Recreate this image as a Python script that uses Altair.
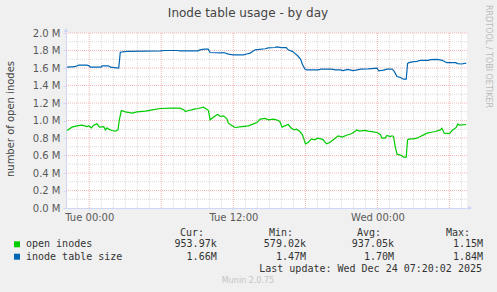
import altair as alt
import pandas as pd

# ---------------- data (hours relative to Tue 2025-12-23 00:00, values in millions) ----------------
series_names = ["open inodes", "inode table size"]
series_colors = ["#00CC00", "#0066B3"]

open_hours = [-1.86, -1.44, -1.03, -0.61, -0.19, -0.05, 0.17, 0.36, 0.64, 0.84,
              1.2, 1.34, 1.48, 1.61, 1.89, 2.17, 2.39, 2.5, 2.67, 3.0,
              3.56, 3.97, 4.67, 5.22, 5.92, 6.89, 7.56, 7.84, 8.03, 8.25,
              8.53, 8.81, 9.08, 9.5, 9.78, 9.92, 10.06, 10.33, 10.69, 10.89,
              11.17, 11.45, 11.58, 12.0, 12.14, 12.7, 13.25, 13.67, 13.95, 14.23,
              14.64, 14.92, 15.31, 15.58, 15.86, 16.06, 16.28, 16.56, 16.83, 17.06,
              17.25, 17.53, 17.75, 17.89, 18.0, 18.22, 18.5, 18.78, 19.0, 19.28,
              19.47, 19.75, 20.03, 20.45, 20.72, 21.06, 21.42, 21.83, 22.11, 22.25,
              22.53, 22.95, 23.22, 23.64, 23.95, 24.23, 24.37, 24.64, 24.78, 25.06,
              25.2, 25.33, 25.47, 25.62, 25.84, 26.03, 26.17, 26.39, 26.5, 26.67,
              27.0, 27.28, 27.56, 27.84, 28.12, 28.39, 28.81, 29.23, 29.36, 29.56,
              30.0, 30.2, 30.42, 30.56, 30.67, 30.84, 31.39]
open_values = [0.886, 0.924, 0.939, 0.947, 0.931, 0.939, 0.916, 0.947, 0.962, 0.924,
               0.931, 0.893, 0.916, 0.901, 0.886, 0.878, 0.893, 1.008, 1.114, 1.099,
               1.084, 1.099, 1.107, 1.122, 1.137, 1.141, 1.141, 1.122, 1.103, 1.114,
               1.122, 1.133, 1.137, 1.152, 1.13, 1.114, 1.008, 1.038, 1.072, 1.046,
               1.053, 1.023, 0.97, 0.931, 0.92, 0.931, 0.939, 0.962, 0.977, 1.015,
               1.023, 1.008, 1.015, 1.008, 0.989, 0.924, 0.939, 0.954, 0.912, 0.893,
               0.901, 0.874, 0.836, 0.779, 0.733, 0.749, 0.79, 0.779, 0.798, 0.79,
               0.779, 0.733, 0.749, 0.794, 0.825, 0.81, 0.832, 0.848, 0.874, 0.893,
               0.878, 0.886, 0.878, 0.87, 0.863, 0.84, 0.798, 0.798, 0.829, 0.817,
               0.825, 0.817, 0.703, 0.615, 0.608, 0.596, 0.581, 0.581, 0.779, 0.79,
               0.79, 0.798, 0.817, 0.836, 0.855, 0.863, 0.874, 0.893, 0.912, 0.855,
               0.851, 0.886, 0.905, 0.924, 0.958, 0.947, 0.954]

size_hours = [-1.86, -1.2, -0.88, -0.2, 0.0, 0.08, 1.0, 1.06, 1.6, 1.75,
              2.45, 2.58, 3.14, 5.92, 6.31, 7.42, 7.5, 9.08, 9.2, 9.58,
              9.9, 10.06, 11.03, 11.2, 11.58, 12.0, 12.83, 13.1, 13.39, 13.81,
              14.64, 14.9, 15.45, 15.6, 16.0, 16.4, 16.56, 16.9, 17.1, 17.35,
              17.6, 17.75, 17.95, 18.1, 19.06, 19.3, 20.17, 20.5, 20.9, 21.14,
              21.5, 21.97, 22.2, 22.6, 23.22, 23.95, 24.1, 24.5, 24.8, 25.2,
              25.35, 25.47, 25.62, 25.9, 26.17, 26.39, 26.5, 26.6, 27.0, 27.3,
              27.56, 28.25, 28.4, 28.95, 29.4, 29.6, 29.78, 30.5, 30.67, 31.0,
              31.39]
size_values = [1.61, 1.615, 1.632, 1.632, 1.625, 1.61, 1.61, 1.625, 1.625, 1.61,
               1.60, 1.78, 1.79, 1.796, 1.80, 1.80, 1.796, 1.796, 1.808, 1.815,
               1.815, 1.777, 1.773, 1.777, 1.758, 1.75, 1.75, 1.76, 1.77, 1.808,
               1.82, 1.83, 1.834, 1.842, 1.834, 1.834, 1.808, 1.79, 1.77, 1.74,
               1.70, 1.64, 1.587, 1.579, 1.579, 1.587, 1.587, 1.579, 1.579, 1.571,
               1.583, 1.571, 1.575, 1.587, 1.59, 1.598, 1.567, 1.575, 1.587, 1.587,
               1.571, 1.541, 1.503, 1.491, 1.472, 1.472, 1.65, 1.661, 1.672, 1.676,
               1.688, 1.688, 1.695, 1.699, 1.688, 1.672, 1.661, 1.661, 1.65, 1.646,
               1.655]

y_label_values = [0.0, 0.2, 0.4, 0.6, 0.8, 1.0, 1.2, 1.4, 1.6, 1.8, 2.0]
y_major_grid = [0.2, 0.4, 0.6, 0.8, 1.0, 1.2, 1.4, 1.6, 1.8, 2.0]
y_minor_grid = [0.1, 0.3, 0.5, 0.7, 0.9, 1.1, 1.3, 1.5, 1.7, 1.9]
x_major_grid_hours = [0, 6, 12, 18, 24, 30]
x_minor_grid_hours = [-1, 1, 2, 3, 4, 5, 7, 8, 9, 10, 11, 13, 14, 15, 16, 17,
                      19, 20, 21, 22, 23, 25, 26, 27, 28, 29, 31]

stat_headers = ["Cur:", "Min:", "Avg:", "Max:"]
open_stats = ["953.97k", "579.02k", "937.05k", "1.15M"]
size_stats = ["1.66M", "1.47M", "1.70M", "1.84M"]

title_text = "Inode table usage - by day"
y_title_text = "number of open inodes"
side_text = "RRDTOOL / TOBI OETIKER"
update_text = "Last update: Wed Dec 24 07:20:02 2025"
footer_text = "Munin 2.0.75"

# ---------------- build tables ----------------
assert len(open_hours) == len(open_values)
assert len(size_hours) == len(size_values)

BASE = pd.Timestamp("2025-12-23T00:00:00Z")


def iso(h):
    return (BASE + pd.Timedelta(hours=h)).strftime("%Y-%m-%dT%H:%M:%SZ")


lines_df = pd.concat([
    pd.DataFrame({"time": [iso(h) for h in open_hours], "value": open_values,
                  "series": series_names[0]}),
    pd.DataFrame({"time": [iso(h) for h in size_hours], "value": size_values,
                  "series": series_names[1]}),
], ignore_index=True)

AXIS_COLOR = "#CFD6F8"
MINOR = "#DADADA"
MAJOR = "#F6B8B8"
FONT = "DejaVu Sans"
MONO = "DejaVu Sans Mono"

x_scale = alt.Scale(
    type="utc",
    domain=[alt.DateTime(year=2025, month=12, date=22, hours=22, minutes=3, seconds=36, utc=True),
            alt.DateTime(year=2025, month=12, date=24, hours=7, minutes=27, utc=True)],
)
y_scale = alt.Scale(domain=[0, 2.0], nice=False, zero=True)

x_axis = alt.Axis(
    values=[alt.DateTime(year=2025, month=12, date=23, hours=0, utc=True),
            alt.DateTime(year=2025, month=12, date=23, hours=12, utc=True),
            alt.DateTime(year=2025, month=12, date=24, hours=0, utc=True)],
    labelExpr="utcFormat(datum.value, '%a %H:%M')",
    title=None, grid=False, domainColor=AXIS_COLOR, tickColor=AXIS_COLOR,
    tickSize=2, labelPadding=2, labelFont=FONT, labelFontSize=10,
    labelColor="#595959", labelFlush=False)
y_axis = alt.Axis(values=y_label_values,
                  labelExpr="format(datum.value, '.1f') + ' M'",
                  title=None, grid=False, domainColor=AXIS_COLOR, tickColor=AXIS_COLOR,
                  tickSize=3, labelPadding=3, labelFont=FONT, labelFontSize=10,
                  labelColor="#595959", labelFlush=False)

W, H = 401, 175

vmin = alt.Chart(pd.DataFrame({"time": [iso(h) for h in x_minor_grid_hours]})).mark_rule(
    color=MINOR, strokeDash=[1, 1], strokeWidth=1
).encode(x=alt.X("time:T", scale=x_scale, axis=x_axis))
vmaj = alt.Chart(pd.DataFrame({"time": [iso(h) for h in x_major_grid_hours]})).mark_rule(
    color=MAJOR, strokeDash=[1, 1], strokeWidth=1
).encode(x=alt.X("time:T", scale=x_scale, axis=x_axis))
hmin = alt.Chart(pd.DataFrame({"v": y_minor_grid})).mark_rule(
    color=MINOR, strokeDash=[1, 1], strokeWidth=1
).encode(y=alt.Y("v:Q", scale=y_scale, axis=y_axis))
hmaj = alt.Chart(pd.DataFrame({"v": y_major_grid})).mark_rule(
    color=MAJOR, strokeDash=[1, 1], strokeWidth=1
).encode(y=alt.Y("v:Q", scale=y_scale, axis=y_axis))

lines = alt.Chart(lines_df).mark_line(strokeWidth=1.2, interpolate="linear").encode(
    x=alt.X("time:T", scale=x_scale, axis=x_axis),
    y=alt.Y("value:Q", scale=y_scale, axis=y_axis),
    color=alt.Color("series:N", scale=alt.Scale(domain=series_names, range=series_colors),
                    legend=None),
    detail="series:N",
)

one = pd.DataFrame({"k": [0]})


def txt(text, x, y, size=10, color="#333333", align="left", font=FONT, angle=0):
    return alt.Chart(one).mark_text(
        text=text, align=align, baseline="middle", font=font, fontSize=size,
        color=color, angle=angle
    ).encode(x=alt.value(x), y=alt.value(y))


arrow_up = alt.Chart(one).mark_point(shape="triangle-up", filled=True, size=22,
                                     color=AXIS_COLOR, opacity=1).encode(
    x=alt.value(0), y=alt.value(-3))
arrow_right = alt.Chart(one).mark_point(shape="triangle-right", filled=True, size=22,
                                        color=AXIS_COLOR, opacity=1).encode(
    x=alt.value(W + 3), y=alt.value(H))

layers = [vmin, hmin, vmaj, hmaj, lines, arrow_up, arrow_right]

layers.append(txt(title_text, 182, -20, size=12, color="#444444", align="center"))
layers.append(txt(y_title_text, -55, 86, size=10, color="#444444", align="center", angle=270))
layers.append(txt(side_text, 422, -28, size=8, color="#BBBBBB", align="left", angle=90))

header_right = [138, 227, 315, 404]
value_right = [150.7, 240, 328, 417]
row_y = [211.3, 223.7]
for hdr, xr in zip(stat_headers, header_right):
    layers.append(txt(hdr, xr, 199.7, font=MONO, align="right"))
for name, color, stats, yy in zip(series_names, series_colors, [open_stats, size_stats], row_y):
    layers.append(alt.Chart(one).mark_square(size=36, color=color, opacity=1).encode(
        x=alt.value(-49), y=alt.value(yy)))
    layers.append(txt(name, -40, yy, font=MONO))
    for s, xr in zip(stats, value_right):
        layers.append(txt(s, xr, yy, font=MONO, align="right"))
layers.append(txt(update_text, 416, 235.7, font=MONO, align="right"))
layers.append(txt(footer_text, 182, 248, size=8, color="#C4C4C4", align="center"))

chart = alt.layer(*layers).properties(
    width=W, height=H,
    padding={"left": 66, "top": 33, "right": 30, "bottom": 84},
    autosize=alt.AutoSizeParams(type="none"),
    background="#F0F0F0",
).configure_view(fill="white", strokeWidth=0)

chart.save("out.html", embed_options={"renderer": "svg", "actions": False})
